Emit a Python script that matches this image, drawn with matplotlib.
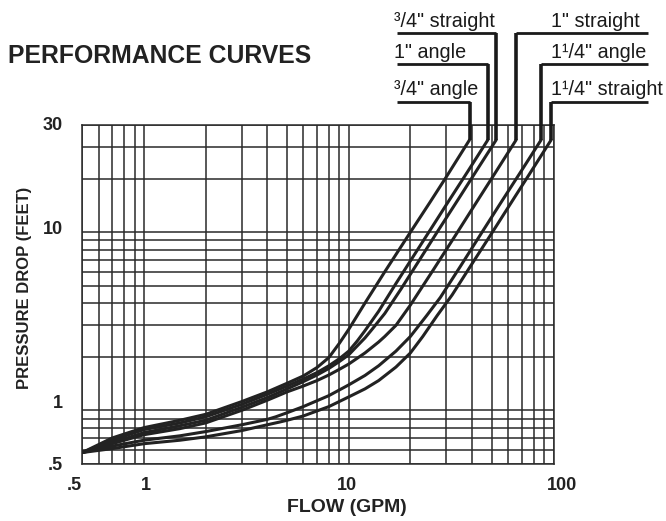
import numpy as np
import matplotlib
matplotlib.use("Agg")
import matplotlib.pyplot as plt
import matplotlib.transforms as mtrans

# ---------------- data ----------------
flow_a = [0.5, 0.7, 1, 1.5, 2, 3, 4, 5, 6, 7, 8, 9, 10, 12, 15, 20, 25, 30, 38.9]
drop_a = [0.58, 0.70, 0.80, 0.88, 0.95, 1.12, 1.27, 1.42, 1.56, 1.74, 1.98, 2.38, 2.85, 4.0, 6.0, 10.0, 14.8, 20.5, 33]

flow_b = [0.5, 0.7, 1, 1.5, 2, 3, 4, 5, 6, 7, 8, 9, 10, 11, 12, 14, 17, 20, 25, 30, 38, 47.8]
drop_b = [0.58, 0.68, 0.78, 0.85, 0.92, 1.08, 1.23, 1.37, 1.5, 1.63, 1.78, 1.95, 2.15, 2.45, 2.8, 3.6, 5.15, 6.9, 10.3, 14.3, 21.8, 33]

flow_c = [0.5, 0.7, 1, 1.5, 2, 3, 4, 5, 6, 7, 8, 9, 10, 11, 12, 13, 15, 18, 22, 27, 35, 42, 52.5]
drop_c = [0.58, 0.66, 0.75, 0.82, 0.88, 1.04, 1.18, 1.32, 1.45, 1.58, 1.72, 1.88, 2.05, 2.3, 2.55, 2.85, 3.5, 4.8, 6.9, 10.0, 15.9, 22.1, 33]

flow_d = [0.5, 0.7, 1, 1.5, 2, 3, 4, 5, 6, 7, 8, 9, 10, 12, 14, 15, 17, 20, 26, 33, 42, 52, 65.7]
drop_d = [0.58, 0.65, 0.73, 0.79, 0.85, 1.0, 1.14, 1.27, 1.37, 1.47, 1.58, 1.7, 1.82, 2.1, 2.42, 2.6, 3.0, 3.9, 6.2, 9.5, 14.7, 21.6, 33]

flow_e = [0.5, 0.7, 1, 1.5, 2, 3, 4, 4.4, 5, 6, 8, 10, 12, 14, 17, 20, 24, 28, 35, 45, 55, 70, 87]
drop_e = [0.58, 0.63, 0.68, 0.72, 0.76, 0.83, 0.89, 0.92, 0.97, 1.05, 1.21, 1.39, 1.57, 1.78, 2.15, 2.6, 3.4, 4.3, 6.4, 10.1, 14.5, 22.3, 33]

flow_f = [0.5, 0.7, 1, 1.5, 2, 3, 4, 4.6, 5, 6, 8, 10, 12, 14, 17, 20, 23, 27, 32, 40, 50, 65, 80, 97.4]
drop_f = [0.58, 0.61, 0.65, 0.68, 0.71, 0.77, 0.83, 0.86, 0.88, 0.93, 1.05, 1.19, 1.32, 1.47, 1.75, 2.1, 2.6, 3.4, 4.45, 6.65, 9.9, 15.9, 23.1, 33]

curve_labels = ['\u00b3/4" angle', '1" angle', '\u00b3/4" straight',
                '1" straight', '1\u00b9/4" angle', '1\u00b9/4" straight']

x_ticks = [0.5, 1, 10, 100]
x_tick_labels = ['.5', '1', '10', '100']
y_ticks = [0.5, 1, 10, 40]
y_tick_labels = ['.5', '1', '10', '30']

x_grid = [0.5, 0.6, 0.7, 0.8, 0.9, 1, 2, 3, 4, 5, 6, 7, 8, 9,
          10, 20, 30, 40, 50, 60, 70, 80, 90, 100]
y_grid = [0.5, 0.6, 0.7, 0.8, 0.9, 1, 2, 3, 4, 5, 6, 7, 8, 9, 10, 20, 30, 40]

# ---------------- figure ----------------
plt.rcParams['font.family'] = ['Liberation Sans', 'DejaVu Sans']
W, H = 666, 521
fig = plt.figure(figsize=(W / 100, H / 100), dpi=100)
fig.patch.set_facecolor('white')

L, R, T, B = 82.3, 553.5, 125, 464
ax = fig.add_axes([L / W, 1 - B / H, (R - L) / W, (B - T) / H])
ax.set_xscale('log')
ax.set_yscale('log')
ax.set_xlim(0.5, 100)
ax.set_ylim(0.5, 40)

gcol = '#2a2a2a'
for xv in x_grid:
    ax.axvline(xv, color=gcol, lw=1.1, zorder=1)
for yv in y_grid:
    ax.axhline(yv, color=gcol, lw=1.1, zorder=1)
for s in ax.spines.values():
    s.set_color(gcol)
    s.set_linewidth(1.1)

ax.xaxis.set_minor_locator(matplotlib.ticker.NullLocator())
ax.yaxis.set_minor_locator(matplotlib.ticker.NullLocator())
ax.set_xticks(x_ticks)
ax.set_xticklabels(x_tick_labels)
ax.set_yticks(y_ticks)
ax.set_yticklabels(y_tick_labels)
ax.tick_params(axis='both', length=0, labelsize=13)
ax.tick_params(axis='x', pad=9)
ax.tick_params(axis='y', pad=14)
for lab in ax.get_xticklabels() + ax.get_yticklabels():
    lab.set_fontweight('bold')
    lab.set_color('#222222')

# small label nudges as in the reference (in pixels)
x_nudge = [-8, 2, -2, 8]
y_nudge = [0, 9, 5, 1]
for lab, dx in zip(ax.get_xticklabels(), x_nudge):
    lab.set_transform(lab.get_transform() +
                      mtrans.ScaledTranslation(dx / 100, 0, fig.dpi_scale_trans))
for lab, dy in zip(ax.get_yticklabels(), y_nudge):
    lab.set_transform(lab.get_transform() +
                      mtrans.ScaledTranslation(0, dy / 100, fig.dpi_scale_trans))

flows = [flow_a, flow_b, flow_c, flow_d, flow_e, flow_f]
drops = [drop_a, drop_b, drop_c, drop_d, drop_e, drop_f]
ccol = '#222222'
for fx, dy in zip(flows, drops):
    ax.plot(fx, dy, color=ccol, lw=2.2, solid_capstyle='round',
            solid_joinstyle='round', zorder=3)

# ---------------- leader lines and labels ----------------
def frac_to_y(fr):
    return 10 ** (np.log10(0.5) + fr * np.log10(40 / 0.5))

def frac_to_x(fr):
    return 10 ** (np.log10(0.5) + fr * np.log10(100 / 0.5))

row_fracs = [(B - 101.7) / (B - T), (B - 64.3) / (B - T), (B - 33.3) / (B - T)]
left_x0 = frac_to_x((397 - L) / (R - L))
right_x1 = frac_to_x((648 - L) / (R - L))
left_text_x = frac_to_x((394 - L) / (R - L))
right_text_x = frac_to_x((551 - L) / (R - L))
right_rows = [row_fracs[2], row_fracs[1], row_fracs[0]]
text_up = 6.5 / (B - T)

for i in range(6):
    xe = flows[i][-1]
    ye = drops[i][-1]
    if i < 3:
        fr = row_fracs[i]
        xs = [left_x0, xe]
        tx = left_text_x
    else:
        fr = right_rows[i - 3]
        xs = [xe, right_x1]
        tx = right_text_x
    yr = frac_to_y(fr)
    ax.plot([xe, xe], [ye, yr], color='#1a1a1a', lw=2.6, clip_on=False,
            solid_capstyle='butt', zorder=4)
    ax.plot(xs, [yr, yr], color='#1a1a1a', lw=2.0, clip_on=False,
            solid_capstyle='butt', zorder=4)
    ax.text(tx, frac_to_y(fr + text_up), curve_labels[i], fontsize=14.2,
            color='#1a1a1a', ha='left', va='baseline', clip_on=False)

# ---------------- titles ----------------
fig.text(8 / W, 1 - 56 / H, 'PERFORMANCE CURVES', fontsize=17.8,
         fontweight='bold', color='#222222', ha='left', va='center')
fig.text(24.5 / W, 1 - 288 / H, 'PRESSURE DROP (FEET)', fontsize=12,
         fontweight='bold', color='#222222', ha='center', va='center',
         rotation=90)
fig.text(346.7 / W, 1 - 508 / H, 'FLOW (GPM)', fontsize=14,
         fontweight='bold', color='#222222', ha='center', va='center')

fig.savefig('out.png', dpi=100, facecolor='white')
